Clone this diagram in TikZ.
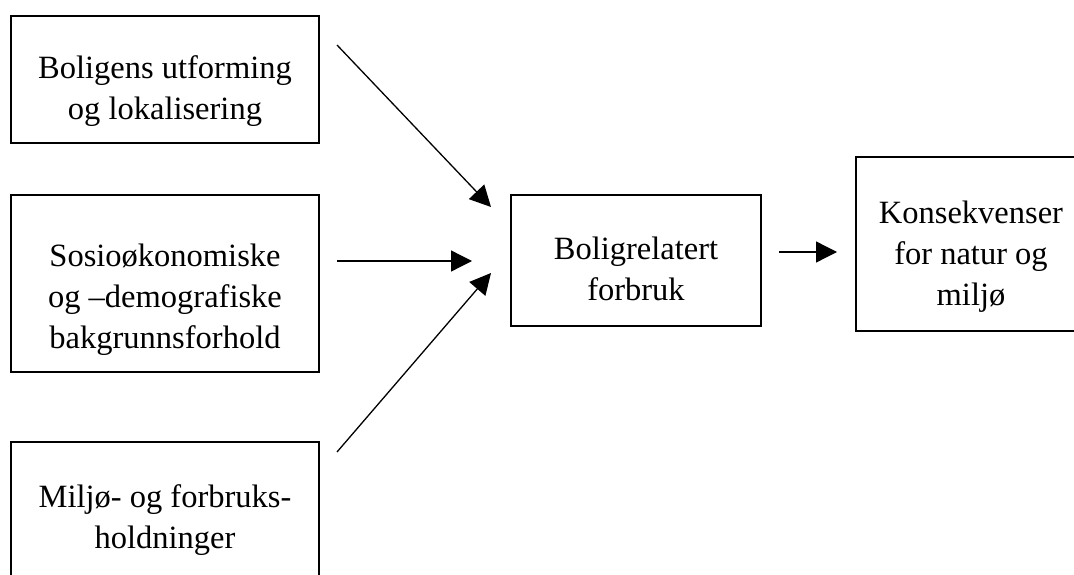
\documentclass[tikz,border=0pt]{standalone}
\usepackage{fontspec}
\setmainfont{Liberation Serif}
\usetikzlibrary{arrows.meta,positioning}
\tikzset{
  ramme/.style={rectangle, draw=black, line width=1.9pt, inner sep=0pt},
  % anchor=base sitzt bei mehrzeiligem Text auf der letzten Grundlinie
  tekst/.style={align=center, inner sep=0pt, anchor=base,
    font=\fontsize{32.5}{41}\selectfont},
  edge/.style={-{Triangle[length=21pt,width=21pt]}, line width=1.3pt, black},
}

\begin{document}
\begin{tikzpicture}[x=1pt, y=-1pt]
\useasboundingbox (0,0) rectangle (1074,575);
\clip (0,0) rectangle (1074,575);

\def\xL{165}   % Mitte der linken Spalte
\def\wL{308}   % Breite der linken Kaesten

% ── linke Spalte: Einflussfaktoren ─────────────────────────────────────────
\node[ramme, minimum width=\wL pt, minimum height=127pt] (bolig) at (\xL, 79.5) {};
\node[tekst] (boligTxt) at (\xL, 120) {Boligens utforming\\og lokalisering};

\node[ramme, minimum width=\wL pt, minimum height=177pt] (sosio) at (\xL, 283.5) {};
\node[tekst] (sosioTxt) at (\xL, 348)
  {Sosioøkonomiske\\og –demografiske\\bakgrunnsforhold};

\node[ramme, minimum width=\wL pt, minimum height=150pt] (holdn) at (\xL, 517) {};
\node[tekst] (holdnTxt) at (\xL, 548) {Miljø- og forbruks-\\holdninger};

% ── Mitte und rechts ───────────────────────────────────────────────────────
\node[ramme, minimum width=250pt, minimum height=131pt] (forbruk) at (636, 260.5) {};
\node[tekst] (forbrukTxt) at (636, 300) {Boligrelatert\\forbruk};

% rechter Rand liegt ausserhalb des Bildes
\node[ramme, minimum width=280pt, minimum height=174pt] (konsek) at (996, 244) {};
\node[tekst] (konsekTxt) at (971, 305) {Konsekvenser\\for natur og\\miljø};

% ── Pfeile (frei stehend, ohne Kontakt zu den Kaesten) ─────────────────────
\coordinate (t1) at (337, 45);   \coordinate (h1) at (491, 207);
\coordinate (t2) at (337, 261);  \coordinate (h2) at (472, 261);
\coordinate (t3) at (337, 452);  \coordinate (h3) at (491, 273);
\coordinate (t4) at (779, 252);  \coordinate (h4) at (837, 252);

\draw[edge] (t1) -- (h1);
\draw[edge] (t2) -- (h2);
\draw[edge] (t3) -- (h3);
\draw[edge] (t4) -- (h4);

\end{tikzpicture}
\end{document}
